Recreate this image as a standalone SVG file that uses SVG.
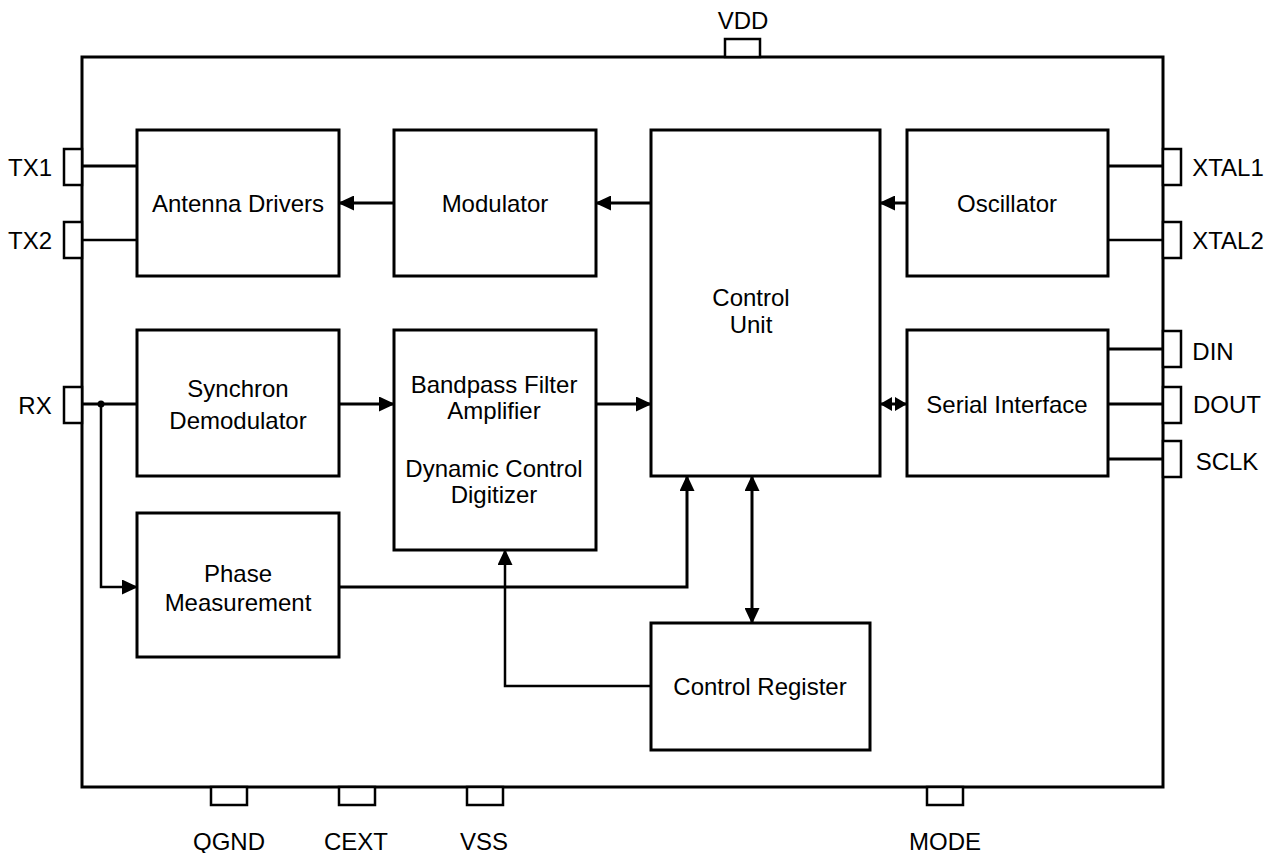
<svg xmlns="http://www.w3.org/2000/svg" width="1274" height="853" viewBox="0 0 1274 853">
<style>
.box{fill:#fff;stroke:#000;stroke-width:3}
.pin{fill:#fff;stroke:#000;stroke-width:2.5}
.t{font-family:"Liberation Sans",Arial,sans-serif;font-size:24px;fill:#000;text-anchor:middle;dominant-baseline:central}
.w{fill:none;stroke:#000;stroke-width:3}
.n{fill:none;stroke:#000;stroke-width:2.5}
</style>
<defs>
<marker id="ah" markerUnits="userSpaceOnUse" markerWidth="16" markerHeight="15" refX="14" refY="7.5" orient="auto-start-reverse" viewBox="0 0 16 15">
<path d="M0,0 L16,7.5 L0,15 z" fill="#000"/>
</marker>
<marker id="as" markerUnits="userSpaceOnUse" markerWidth="12" markerHeight="14" refX="11" refY="7" orient="auto-start-reverse" viewBox="0 0 12 14">
<path d="M0,0 L12,7 L0,14 z" fill="#000"/>
</marker>
</defs>
<rect width="1274" height="853" fill="#fff"/>
<g id="package">
<rect x="82" y="57" width="1081" height="730" fill="#fff" stroke="#000" stroke-width="3"/>
</g>
<g id="pins">
<rect class="pin" x="725" y="39" width="35" height="18"/>
<rect class="pin" x="64" y="149" width="18" height="36"/>
<rect class="pin" x="64" y="222" width="18" height="36"/>
<rect class="pin" x="64" y="387" width="18" height="36"/>
<rect class="pin" x="1163" y="149" width="18" height="36"/>
<rect class="pin" x="1163" y="222" width="18" height="36"/>
<rect class="pin" x="1163" y="331" width="18" height="36"/>
<rect class="pin" x="1163" y="387" width="18" height="36"/>
<rect class="pin" x="1163" y="441" width="18" height="36"/>
<rect class="pin" x="211" y="787" width="36" height="18"/>
<rect class="pin" x="339" y="787" width="36" height="18"/>
<rect class="pin" x="467" y="787" width="36" height="18"/>
<rect class="pin" x="927" y="787" width="36" height="18"/>
<text class="t" x="743" y="20">VDD</text>
<text class="t" x="30" y="167">TX1</text>
<text class="t" x="30" y="240">TX2</text>
<text class="t" x="35" y="405">RX</text>
<text class="t" x="1228" y="167">XTAL1</text>
<text class="t" x="1228" y="240">XTAL2</text>
<text class="t" x="1213" y="351">DIN</text>
<text class="t" x="1227" y="404">DOUT</text>
<text class="t" x="1227" y="461">SCLK</text>
<text class="t" x="229" y="841">QGND</text>
<text class="t" x="356" y="841">CEXT</text>
<text class="t" x="484" y="841">VSS</text>
<text class="t" x="945" y="841">MODE</text>
</g>
<g id="connectors">
<line class="w" x1="82" y1="166" x2="137" y2="166"/>
<line class="n" x1="82" y1="240" x2="137" y2="240"/>
<line class="w" x1="394" y1="203" x2="340" y2="203" marker-end="url(#ah)"/>
<line class="w" x1="651" y1="203" x2="597" y2="203" marker-end="url(#ah)"/>
<line class="w" x1="907" y1="203" x2="881" y2="203" marker-end="url(#ah)"/>
<line class="w" x1="1108" y1="166" x2="1163" y2="166"/>
<line class="n" x1="1108" y1="240" x2="1163" y2="240"/>
<line class="w" x1="82" y1="404" x2="137" y2="404"/>
<circle cx="101" cy="404" r="3.5" fill="#000"/>
<polyline class="n" points="101,404 101,587 136,587" marker-end="url(#ah)"/>
<line class="w" x1="339" y1="404" x2="393" y2="404" marker-end="url(#ah)"/>
<line class="w" x1="596" y1="404" x2="650" y2="404" marker-end="url(#ah)"/>
<line class="w" x1="881" y1="404" x2="906" y2="404" marker-start="url(#as)" marker-end="url(#as)"/>
<line class="w" x1="1108" y1="349" x2="1163" y2="349"/>
<line class="w" x1="1108" y1="404" x2="1163" y2="404"/>
<line class="w" x1="1108" y1="459" x2="1163" y2="459"/>
<polyline class="w" points="339,587 687,587 687,477" marker-end="url(#ah)"/>
<line class="w" x1="752" y1="477" x2="752" y2="622" marker-start="url(#ah)" marker-end="url(#ah)"/>
<polyline class="n" points="651,686 505,686 505,551" marker-end="url(#ah)"/>
</g>
<g id="antenna-drivers"><rect class="box" x="137" y="130" width="202" height="146"/><text class="t" x="238" y="203">Antenna Drivers</text></g>
<g id="modulator"><rect class="box" x="394" y="130" width="202" height="146"/><text class="t" x="495" y="203">Modulator</text></g>
<g id="control-unit"><rect class="box" x="651" y="130" width="229" height="346"/><text class="t" x="751" y="297">Control</text><text class="t" x="751" y="324">Unit</text></g>
<g id="oscillator"><rect class="box" x="907" y="130" width="201" height="146"/><text class="t" x="1007" y="203">Oscillator</text></g>
<g id="synchron-demodulator"><rect class="box" x="137" y="330" width="202" height="146"/><text class="t" x="238" y="388">Synchron</text><text class="t" x="238" y="420">Demodulator</text></g>
<g id="bandpass"><rect class="box" x="394" y="330" width="202" height="220"/><text class="t" x="494" y="384">Bandpass Filter</text><text class="t" x="494" y="410">Amplifier</text><text class="t" x="494" y="468">Dynamic Control</text><text class="t" x="494" y="494">Digitizer</text></g>
<g id="serial-interface"><rect class="box" x="907" y="330" width="201" height="146"/><text class="t" x="1007" y="404">Serial Interface</text></g>
<g id="phase-measurement"><rect class="box" x="137" y="513" width="202" height="144"/><text class="t" x="238" y="573">Phase</text><text class="t" x="238" y="602">Measurement</text></g>
<g id="control-register"><rect class="box" x="651" y="623" width="219" height="127"/><text class="t" x="760" y="686">Control Register</text></g>
</svg>
